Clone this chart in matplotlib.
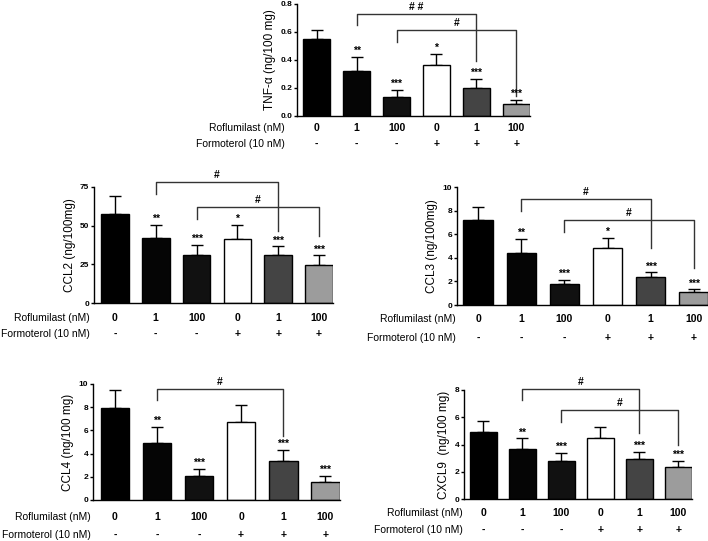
import matplotlib
matplotlib.use("Agg")
import matplotlib.pyplot as plt

plt.rcParams["font.family"] = ["Liberation Sans", "DejaVu Sans"]

roflumilast = ["0", "1", "100", "0", "1", "100"]
formoterol = ["-", "-", "-", "+", "+", "+"]
bar_colors = ["#000000", "#050505", "#111111", "#ffffff", "#444444", "#9c9c9c"]

tnf_mean = [0.548, 0.324, 0.138, 0.364, 0.202, 0.086]
tnf_err = [0.066, 0.095, 0.048, 0.079, 0.060, 0.028]
tnf_stars = ["", "**", "***", "*", "***", "***"]
tnf_brackets = [(1, 4, 0.729, 0.650, 0.393, "# #"), (2, 5, 0.614, 0.531, 0.143, "#")]

ccl2_mean = [57.5, 42.0, 31.2, 41.6, 30.8, 24.8]
ccl2_err = [11.5, 8.6, 6.5, 8.8, 5.8, 6.0]
ccl2_stars = ["", "**", "***", "*", "***", "***"]
ccl2_brackets = [(1, 4, 78.2, 70.3, 46.5, "#"), (2, 5, 61.9, 54.1, 43.3, "#")]

ccl3_mean = [7.24, 4.37, 1.75, 4.79, 2.34, 1.13]
ccl3_err = [1.07, 1.21, 0.36, 0.93, 0.42, 0.19]
ccl3_stars = ["", "**", "***", "*", "***", "***"]
ccl3_brackets = [(1, 4, 8.96, 7.97, 4.85, "#"), (2, 5, 7.24, 6.20, 3.10, "#")]

ccl4_mean = [7.90, 4.89, 2.07, 6.70, 3.36, 1.58]
ccl4_err = [1.58, 1.43, 0.63, 1.52, 0.95, 0.52]
ccl4_stars = ["", "**", "***", "", "***", "***"]
ccl4_brackets = [(1, 4, 9.54, 8.62, 5.52, "#")]

cxcl9_mean = [4.89, 3.67, 2.81, 4.45, 2.93, 2.32]
cxcl9_err = [0.86, 0.78, 0.59, 0.86, 0.54, 0.49]
cxcl9_stars = ["", "**", "***", "", "***", "***"]
cxcl9_brackets = [(1, 4, 8.04, 7.26, 4.82, "#"), (2, 5, 6.53, 5.67, 3.96, "#")]

W, H = 708, 541
fig = plt.figure(figsize=(W / 100, H / 100), dpi=100)


def panel(box, xlim, mean, err, stars, brackets, ylabel, yticks, ytick_labels,
          label_dx, row_dy, star_off):
    # box: left, top, right, bottom in pixels
    x0, y0, x1, y1 = box
    ax = fig.add_axes([x0 / W, 1 - y1 / H, (x1 - x0) / W, (y1 - y0) / H])
    xs = list(range(len(mean)))
    ax.bar(xs, mean, width=0.68, color=bar_colors, edgecolor="black",
           linewidth=1.0, zorder=2)
    ax.errorbar(xs, mean, yerr=[[0] * len(err), err], fmt="none",
                ecolor="black", elinewidth=1.0, capsize=4, capthick=1.0, zorder=1)
    for x, m, e, s in zip(xs, mean, err, stars):
        if s:
            ax.annotate(s, (x, m + e), xytext=(0, star_off), textcoords="offset pixels",
                        ha="center", va="bottom", fontsize=7.5, fontweight="bold",
                        annotation_clip=False)
    for xa, xb, yt, ya, yb, lab in brackets:
        ax.plot([xa, xa, xb, xb], [ya, yt, yt, yb], color="#333333",
                linewidth=1.0, clip_on=False)
        ax.annotate(lab, ((xa + xb) / 2, yt), xytext=(0, 2), textcoords="offset pixels",
                    ha="center", va="bottom", fontsize=7.5, fontweight="bold",
                    annotation_clip=False)
    ax.set_xlim(*xlim)
    ax.set_ylim(yticks[0], yticks[-1])
    ax.set_yticks(yticks)
    ax.set_yticklabels(ytick_labels, fontsize=6, fontweight="bold")
    ax.set_xticks([])
    ax.tick_params(axis="y", length=2.5, width=1.0, pad=1)
    ax.spines["top"].set_visible(False)
    ax.spines["right"].set_visible(False)
    ax.spines["left"].set_linewidth(1.0)
    ax.spines["bottom"].set_linewidth(1.0)
    ax.set_ylabel(ylabel, fontsize=8.5, labelpad=3)
    rows = [("Roflumilast (nM)", roflumilast), ("Formoterol (10 nM)", formoterol)]
    for (name, labels), dy in zip(rows, row_dy):
        ax.annotate(name, (0, 0), xycoords="axes fraction", xytext=(label_dx, -dy),
                    textcoords="offset pixels", ha="right", va="center", fontsize=7.5)
        for x, lab in zip(xs, labels):
            ax.annotate(lab, (x, 0), xycoords=("data", "axes fraction"),
                        xytext=(0, -dy), textcoords="offset pixels",
                        ha="center", va="center", fontsize=7.5, fontweight="bold")
    return ax


panel((297, 4, 530, 116), (-0.49, 5.34), tnf_mean, tnf_err, tnf_stars, tnf_brackets,
      "TNF-\u03b1 (ng/100 mg)", [0, 0.2, 0.4, 0.6, 0.8],
      ["0.0", "0.2", "0.4", "0.6", "0.8"], -12, (12, 28), 1)
panel((94, 187, 333, 303), (-0.51, 5.34), ccl2_mean, ccl2_err, ccl2_stars, ccl2_brackets,
      "CCL2 (ng/100mg)", [0, 25, 50, 75], ["0", "25", "50", "75"], -4, (15, 31), 1)
panel((457, 187, 708, 305), (-0.49, 5.33), ccl3_mean, ccl3_err, ccl3_stars, ccl3_brackets,
      "CCL3 (ng/100mg)", [0, 2, 4, 6, 8, 10], ["0", "2", "4", "6", "8", "10"], -1, (14, 33), 1)
panel((93, 384, 340, 500), (-0.52, 5.35), ccl4_mean, ccl4_err, ccl4_stars, ccl4_brackets,
      "CCL4 (ng/100 mg)", [0, 2, 4, 6, 8, 10], ["0", "2", "4", "6", "8", "10"], -2, (17, 35), 1)
panel((464, 390, 692, 499), (-0.5, 5.35), cxcl9_mean, cxcl9_err, cxcl9_stars, cxcl9_brackets,
      "CXCL9  (ng/100 mg)", [0, 2, 4, 6, 8], ["0", "2", "4", "6", "8"], -1, (14, 31), 1)

fig.savefig("out.png", dpi=100)
